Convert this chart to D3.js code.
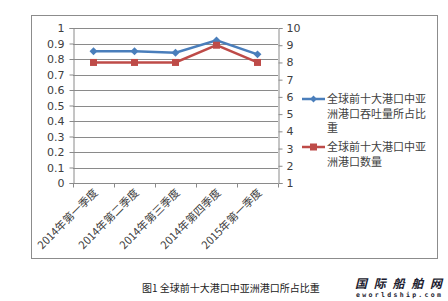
<!DOCTYPE html>
<html><head><meta charset="utf-8">
<script src="https://cdn.jsdelivr.net/npm/d3@7"></script>
<style>
html,body{margin:0;padding:0;background:#fff;}
svg text{font-family:"Noto Sans CJK SC","DejaVu Sans",sans-serif;}
</style></head>
<body><svg id="c" width="448" height="301"></svg>
<script>
const categories = ["2014年第一季度","2014年第二季度","2014年第三季度","2014年第四季度","2015年第一季度"];
const shareValues = [0.85, 0.85, 0.84, 0.92, 0.83];
const countValues = [8, 8, 8, 9, 8];
const leftTicks = [0,0.1,0.2,0.3,0.4,0.5,0.6,0.7,0.8,0.9,1];
const rightTicks = [1,2,3,4,5,6,7,8,9,10];
const seriesNames = ["全球前十大港口中亚洲港口吞吐量所占比重","全球前十大港口中亚洲港口数量"];
const legendLines = [["全球前十大港口中亚","洲港口吞吐量所占比","重"],["全球前十大港口中亚","洲港口数量"]];
const caption = "图1 全球前十大港口中亚洲港口所占比重";

const svg = d3.select("#c");
const blue = "#4A7EBB", red = "#BE4B48", txt = "#404040";
const L = 73, R = 278, T = 28, B = 183;

svg.append("rect").attr("x",31.5).attr("y",15.5).attr("width",406).attr("height",243)
  .attr("fill","none").attr("stroke","#8c8c8c").attr("stroke-width",1);

const x = d3.scaleBand().domain(categories).range([L,R]);
const yL = d3.scaleLinear().domain([0,1]).range([B,T]);
const yR = d3.scaleLinear().domain([1,10]).range([B,T]);

// gridlines
svg.append("g").selectAll("line").data(leftTicks.slice(1)).join("line")
  .attr("x1",L).attr("x2",R).attr("y1",d=>Math.round(yL(d))+0.5).attr("y2",d=>Math.round(yL(d))+0.5)
  .attr("stroke","#8a8a8a").attr("stroke-width",1);

const styleAxis = g => {
  g.selectAll("path").attr("stroke","#8a8a8a");
  g.selectAll("line").attr("stroke","#8a8a8a");
  g.selectAll("text").attr("fill",txt).style("font-size","11px").style("font-family","'DejaVu Sans',sans-serif");
};
svg.append("g").attr("transform",`translate(${L+0.5},0)`)
  .call(d3.axisLeft(yL).tickValues(leftTicks).tickFormat(d3.format("~g")).tickSizeOuter(0).tickSize(4).tickPadding(5))
  .call(styleAxis);
svg.append("g").attr("transform",`translate(${R+0.5},0)`)
  .call(d3.axisRight(yR).tickValues(rightTicks).tickFormat(d3.format("d")).tickSizeOuter(0).tickSize(4).tickPadding(4))
  .call(styleAxis);

// x axis
const xa = svg.append("g").attr("transform",`translate(0,${B+0.5})`);
xa.append("line").attr("x1",L).attr("x2",R).attr("stroke","#8a8a8a");
const edges = categories.map(c=>x(c)).concat([R]);
xa.selectAll("line.t").data(edges).join("line").attr("class","t")
  .attr("x1",d=>d+0.5).attr("x2",d=>d+0.5).attr("y1",0).attr("y2",4).attr("stroke","#8a8a8a");
xa.selectAll("text").data(categories).join("text")
  .attr("transform",d=>`translate(${x(d)+x.bandwidth()/2+5},${10}) rotate(-45)`)
  .attr("text-anchor","end").attr("fill",txt).style("font-size","11px")
  .text(d=>d);

// lines
const cx = d=>x(d)+x.bandwidth()/2;
const lineL = d3.line().x((d,i)=>cx(categories[i])).y(d=>yL(d));
const lineR = d3.line().x((d,i)=>cx(categories[i])).y(d=>yR(d));
svg.append("path").attr("d",lineL(shareValues)).attr("fill","none").attr("stroke",blue).attr("stroke-width",2.5);
svg.append("path").attr("d",lineR(countValues)).attr("fill","none").attr("stroke",red).attr("stroke-width",2.5);
const diamond = d3.symbol().type(d3.symbolDiamond2).size(40);
svg.append("g").selectAll("path").data(shareValues).join("path")
  .attr("d",diamond).attr("transform",(d,i)=>`translate(${cx(categories[i])},${yL(d)})`).attr("fill",blue);
svg.append("g").selectAll("rect").data(countValues).join("rect")
  .attr("x",(d,i)=>cx(categories[i])-3.5).attr("y",d=>yR(d)-3.5).attr("width",7).attr("height",7).attr("fill",red);

// legend
const lg = [{c:blue,y:99,m:"d"},{c:red,y:147,m:"s"}];
lg.forEach((e,k)=>{
  const g = svg.append("g");
  g.append("line").attr("x1",302).attr("x2",325).attr("y1",e.y).attr("y2",e.y).attr("stroke",e.c).attr("stroke-width",2.5);
  if(e.m==="d") g.append("path").attr("d",d3.symbol().type(d3.symbolDiamond2).size(30)).attr("transform",`translate(313.5,${e.y})`).attr("fill",e.c);
  else g.append("rect").attr("x",310).attr("y",e.y-3.5).attr("width",7).attr("height",7).attr("fill",e.c);
  const t = g.append("text").attr("x",327).attr("y",e.y+4).attr("fill",txt).style("font-size","11px");
  legendLines[k].forEach((s,j)=>t.append("tspan").attr("x",327).attr("dy",j?14.5:0).text(s));
  g.append("title").text(seriesNames[k]);
});

// caption
svg.append("text").attr("x",142).attr("y",292).attr("fill","#222").style("font-size","10px").text(caption);
// logo
svg.append("text").attr("x",355).attr("y",288).attr("fill","#1a1a2e").style("font-size","12px").style("font-weight","bold").style("font-style","italic").attr("textLength",87).text("国际船舶网");
svg.append("text").attr("x",356).attr("y",297).attr("fill","#1a1a2e").style("font-size","6.5px").style("font-weight","bold").attr("textLength",85).style("font-family","'DejaVu Sans Mono',monospace").text("eworldship.com");
</script></body></html>
